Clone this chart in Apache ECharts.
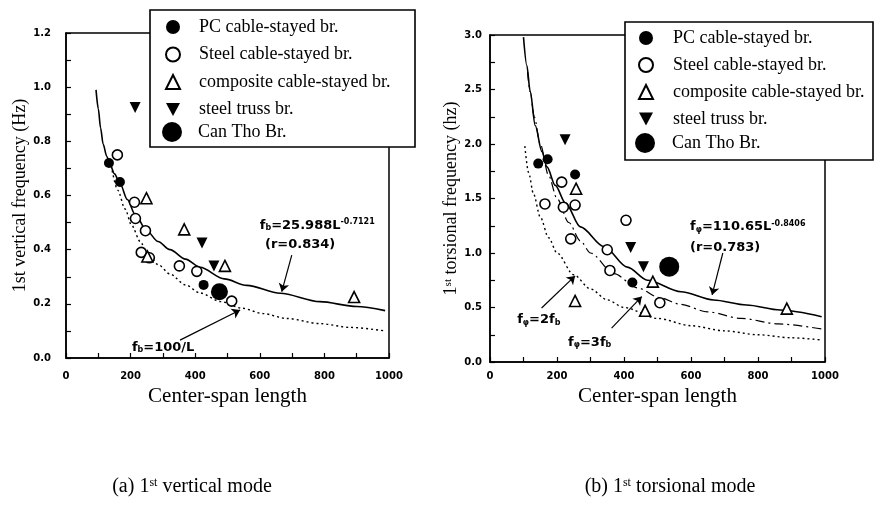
<!DOCTYPE html>
<html><head><meta charset="utf-8">
<script src="https://cdn.jsdelivr.net/npm/echarts@6/dist/echarts.min.js"></script>
<style>html,body{margin:0;padding:0;background:#fff}#c{width:878px;height:517px}</style>
</head><body><div id="c"></div>
<script>
// ---------- categories ----------
const names = ['PC cable-stayed br.', 'Steel cable-stayed br.', 'composite cable-stayed br.', 'steel truss br.', 'Can Tho Br.'];

// ---------- (a) 1st vertical mode : [span L, frequency] ----------
const vPC = [[133, 0.72], [167, 0.65], [426, 0.27]];
const vSteel = [[159, 0.75], [212, 0.575], [215, 0.515], [246, 0.47], [233, 0.39], [258, 0.37], [351, 0.34], [405, 0.32], [513, 0.21]];
const vComp = [[249, 0.59], [252, 0.375], [366, 0.475], [492, 0.34], [892, 0.225]];
const vTruss = [[214, 0.925], [421, 0.425], [458, 0.34]];
const vCanTho = [[475, 0.245]];
// fitted curve f_b = 25.988 L^-0.7121
const vFitL = [93, 100, 107, 115, 126, 136, 150, 167, 190, 214, 250, 285, 322, 370, 415, 490, 560, 663, 786, 900, 988];
const vFitF = [0.99, 0.92, 0.85, 0.79, 0.745, 0.715, 0.68, 0.645, 0.585, 0.53, 0.47, 0.43, 0.40, 0.365, 0.335, 0.292, 0.268, 0.239, 0.208, 0.19, 0.175];
// reference curve f_b = 100/L
const vRefL = [140, 160, 183, 203, 230, 250, 285, 322, 370, 415, 480, 544, 610, 683, 786, 880, 988];
const vRefF = [0.71, 0.62, 0.55, 0.49, 0.43, 0.39, 0.345, 0.31, 0.27, 0.24, 0.208, 0.184, 0.164, 0.146, 0.127, 0.113, 0.10];

// ---------- (b) 1st torsional mode ----------
const tPC = [[144, 1.82], [172, 1.86], [254, 1.72], [425, 0.73]];
const tSteel = [[214, 1.65], [164, 1.45], [219, 1.42], [254, 1.44], [406, 1.30], [241, 1.13], [350, 1.03], [358, 0.84], [507, 0.544]];
const tComp = [[257, 1.59], [486, 0.737], [254, 0.56], [463, 0.47], [886, 0.49]];
const tTruss = [[224, 2.04], [420, 1.05], [458, 0.875]];
const tCanTho = [[535, 0.875]];
const tFitL = [100, 110, 120, 135, 155, 170, 195, 225, 270, 340, 410, 470, 570, 667, 766, 866, 990];
const tFitF = [2.98, 2.72, 2.48, 2.17, 1.93, 1.79, 1.62, 1.46, 1.24, 1.06, 0.87, 0.75, 0.645, 0.569, 0.523, 0.477, 0.416];
const t3L = [112, 120, 132, 150, 175, 200, 235, 270, 300, 370, 440, 507, 567, 650, 750, 860, 990];
const t3F = [2.66, 2.48, 2.25, 2.0, 1.71, 1.5, 1.28, 1.11, 1.0, 0.81, 0.68, 0.59, 0.53, 0.46, 0.40, 0.35, 0.303];
const t2L = [104, 115, 130, 150, 175, 200, 250, 300, 350, 400, 500, 600, 700, 800, 900, 990];
const t2F = [1.98, 1.74, 1.54, 1.33, 1.14, 1.0, 0.80, 0.67, 0.57, 0.50, 0.40, 0.333, 0.286, 0.25, 0.222, 0.202];

// ---------- annotation anchors (data coords) ----------
const vArrowFit = [[699, 0.38], [668, 0.245]];
const vArrowRef = [[353, 0.066], [539, 0.177]];
const tArrowFit = [[695, 1.0], [663, 0.615]];
const tArrow2 = [[154, 0.495], [254, 0.79]];
const tArrow3 = [[363, 0.31], [453, 0.6]];

const zip = (a, b) => a.map((v, i) => [v, b[i]]);
const SERIF = 'Liberation Serif';
const TICKFONT = {fontFamily: 'DejaVu Sans', fontWeight: 'bold', fontSize: 10, color: '#000'};
const DOWN_TRI = 'path://M0,0L12,0L6,11Z';

function arrow(pair) {
  return {
    silent: true, symbol: ['none', 'arrow'], symbolSize: 8, animation: false,
    label: {show: false}, emphasis: {disabled: true},
    lineStyle: {color: '#000', width: 1.2, type: 'solid'},
    data: [[{coord: pair[0]}, {coord: pair[1]}]]
  };
}
function curve(idx, data, type, width, ml) {
  const s = {type: 'line', xAxisIndex: idx, yAxisIndex: idx, data: data, showSymbol: false, smooth: 0.3, smoothMonotone: 'x',
    lineStyle: {color: '#000', width: width, type: type}, silent: true, z: 1};
  if (ml) s.markLine = ml;
  return s;
}
function pts(idx, k, data, sz) {
  const st = [
    {symbol: 'circle', symbolSize: 10, itemStyle: {color: '#000', opacity: 1}},
    {symbol: 'circle', symbolSize: 10, itemStyle: {color: '#fff', borderColor: '#000', borderWidth: 1.6, opacity: 1}},
    {symbol: 'triangle', symbolSize: 11, itemStyle: {color: '#fff', borderColor: '#000', borderWidth: 1.6, opacity: 1}},
    {symbol: DOWN_TRI, symbolSize: 11, itemStyle: {color: '#000', opacity: 1}},
    {symbol: 'circle', symbolSize: sz || 17, itemStyle: {color: '#000', opacity: 1}}
  ][k];
  return Object.assign({type: 'scatter', name: names[k], xAxisIndex: idx, yAxisIndex: idx, data: data, z: 3 + (k === 4 ? 1 : 0)}, st);
}
function xAx(idx, gap, margin) {
  return {type: 'value', gridIndex: idx, min: 0, max: 1000, interval: 200,
    axisLine: {show: true, lineStyle: {color: '#000', width: 1.5}},
    axisTick: {show: true, inside: true, length: 5, lineStyle: {color: '#000', width: 1.2}},
    minorTick: {show: true, splitNumber: 2, length: 5, lineStyle: {color: '#000', width: 1.2}},
    splitLine: {show: false}, minorSplitLine: {show: false},
    axisLabel: Object.assign({margin: margin, formatter: v => String(v)}, TICKFONT),
    name: 'Center-span length', nameLocation: 'middle', nameGap: gap,
    nameTextStyle: {fontFamily: SERIF, fontSize: 21, color: '#000'}};
}
function yAx(idx, max, iv, name, gap, margin) {
  return {type: 'value', gridIndex: idx, min: 0, max: max, interval: iv,
    axisLine: {show: true, lineStyle: {color: '#000', width: 1.5}},
    axisTick: {show: true, inside: true, length: 5, lineStyle: {color: '#000', width: 1.2}},
    minorTick: {show: true, splitNumber: 2, length: 5, lineStyle: {color: '#000', width: 1.2}},
    splitLine: {show: false}, minorSplitLine: {show: false},
    axisLabel: Object.assign({margin: margin, formatter: v => v.toFixed(1)}, TICKFONT),
    name: name, nameLocation: 'middle', nameGap: gap,
    nameTextStyle: {fontFamily: SERIF, fontSize: 18, color: '#000', rich: {s: {fontFamily: SERIF, fontSize: 11, verticalAlign: 'top', color: '#000'}}}};
}
function legend(left, top, data, sz, gap, pad) {
  return {data: data, orient: 'vertical', left: left, top: top, itemWidth: sz, itemHeight: sz, itemGap: gap,
    padding: 0, z: 20, selectedMode: false,
    textStyle: {fontFamily: SERIF, fontSize: 18, color: '#000', lineHeight: 16, padding: [0, 0, 0, pad]}};
}

const chart = echarts.init(document.getElementById('c'), null, {renderer: 'canvas'});
chart.setOption({
  animation: false,
  backgroundColor: '#fff',
  grid: [
    {left: 66, top: 33, width: 323, height: 325, show: true, borderColor: '#000', borderWidth: 1.5, backgroundColor: 'transparent'},
    {left: 490, top: 35, width: 335, height: 327, show: true, borderColor: '#000', borderWidth: 1.5, backgroundColor: 'transparent'}
  ],
  xAxis: [xAx(0, 27, 13), xAx(1, 24, 9)],
  yAxis: [yAx(0, 1.2, 0.2, '1st vertical frequency (Hz)', 37, 15), yAx(1, 3.0, 0.5, '1{s|st} torsional frequency (hz)', 29, 8)],
  legend: [
    legend(165, 18, names.slice(0, 4), 14, 9.5, 14),
    legend(162, 122, [names[4]], 20, 0, 11),
    legend(638, 29, names.slice(0, 4), 14, 9, 15),
    legend(635, 133, [names[4]], 20, 0, 12)
  ],
  series: [
    curve(0, zip(vFitL, vFitF), 'solid', 1.6, arrow(vArrowFit)),
    curve(0, zip(vRefL, vRefF), [2, 3], 1.4, arrow(vArrowRef)),
    pts(0, 0, vPC), pts(0, 1, vSteel), pts(0, 2, vComp), pts(0, 3, vTruss), pts(0, 4, vCanTho, 17),
    curve(1, zip(tFitL, tFitF), 'solid', 1.6, arrow(tArrowFit)),
    curve(1, zip(t3L, t3F), [9, 4, 2, 4], 1.2, arrow(tArrow3)),
    curve(1, zip(t2L, t2F), [2, 3], 1.4, arrow(tArrow2)),
    pts(1, 0, tPC), pts(1, 1, tSteel), pts(1, 2, tComp), pts(1, 3, tTruss), pts(1, 4, tCanTho, 20)
  ]
});

const P = (g, c) => chart.convertToPixel({gridIndex: g}, c);
const ANN = {fontFamily: 'DejaVu Sans', fontWeight: 'bold', fontSize: 13, fill: '#000'};
const annRich = {
  m: {fontFamily: 'DejaVu Sans', fontWeight: 'bold', fontSize: 13, color: '#000'},
  b: {fontFamily: 'DejaVu Sans', fontWeight: 'bold', fontSize: 8, color: '#000', verticalAlign: 'bottom', padding: [6, 0, 0, 0]},
  p: {fontFamily: 'DejaVu Sans', fontWeight: 'bold', fontSize: 8, color: '#000', verticalAlign: 'top', padding: [0, 0, 6, 0]}
};
function ann(g, c, text) {
  const p = P(g, c);
  return {type: 'text', x: p[0], y: p[1], z: 15, silent: true,
    style: Object.assign({text: text, rich: annRich, align: 'left', verticalAlign: 'middle'}, ANN)};
}
const capRich = {s: {fontFamily: SERIF, fontSize: 12, verticalAlign: 'top', color: '#000'}, m: {fontFamily: SERIF, fontSize: 20, color: '#000'}};
chart.setOption({
  graphic: [
    {type: 'rect', shape: {x: 150, y: 10, width: 265, height: 137}, style: {fill: '#fff', stroke: '#000', lineWidth: 1.6}, z: 10, silent: true},
    {type: 'rect', shape: {x: 625, y: 22, width: 248, height: 138}, style: {fill: '#fff', stroke: '#000', lineWidth: 1.6}, z: 10, silent: true},
    ann(0, [600, 0.49], '{m|f}{b|b}{m|=25.988L}{p|-0.7121}'),
    ann(0, [616, 0.417], '{m|(r=0.834)}'),
    ann(0, [204, 0.04], '{m|f}{b|b}{m|=100/L}'),
    ann(1, [597, 1.24], '{m|f}{b|φ}{m|=110.65L}{p|-0.8406}'),
    ann(1, [597, 1.046], '{m|(r=0.783)}'),
    ann(1, [81, 0.385], '{m|f}{b|φ}{m|=2f}{b|b}'),
    ann(1, [233, 0.18], '{m|f}{b|φ}{m|=3f}{b|b}'),
    {type: 'text', x: 192, y: 487, silent: true, style: {text: '{m|(a) 1}{s|st}{m| vertical mode}', rich: capRich, align: 'center', verticalAlign: 'middle', fontFamily: SERIF, fontSize: 20, fill: '#000'}},
    {type: 'text', x: 670, y: 487, silent: true, style: {text: '{m|(b) 1}{s|st}{m| torsional mode}', rich: capRich, align: 'center', verticalAlign: 'middle', fontFamily: SERIF, fontSize: 20, fill: '#000'}}
  ]
});
</script></body></html>
